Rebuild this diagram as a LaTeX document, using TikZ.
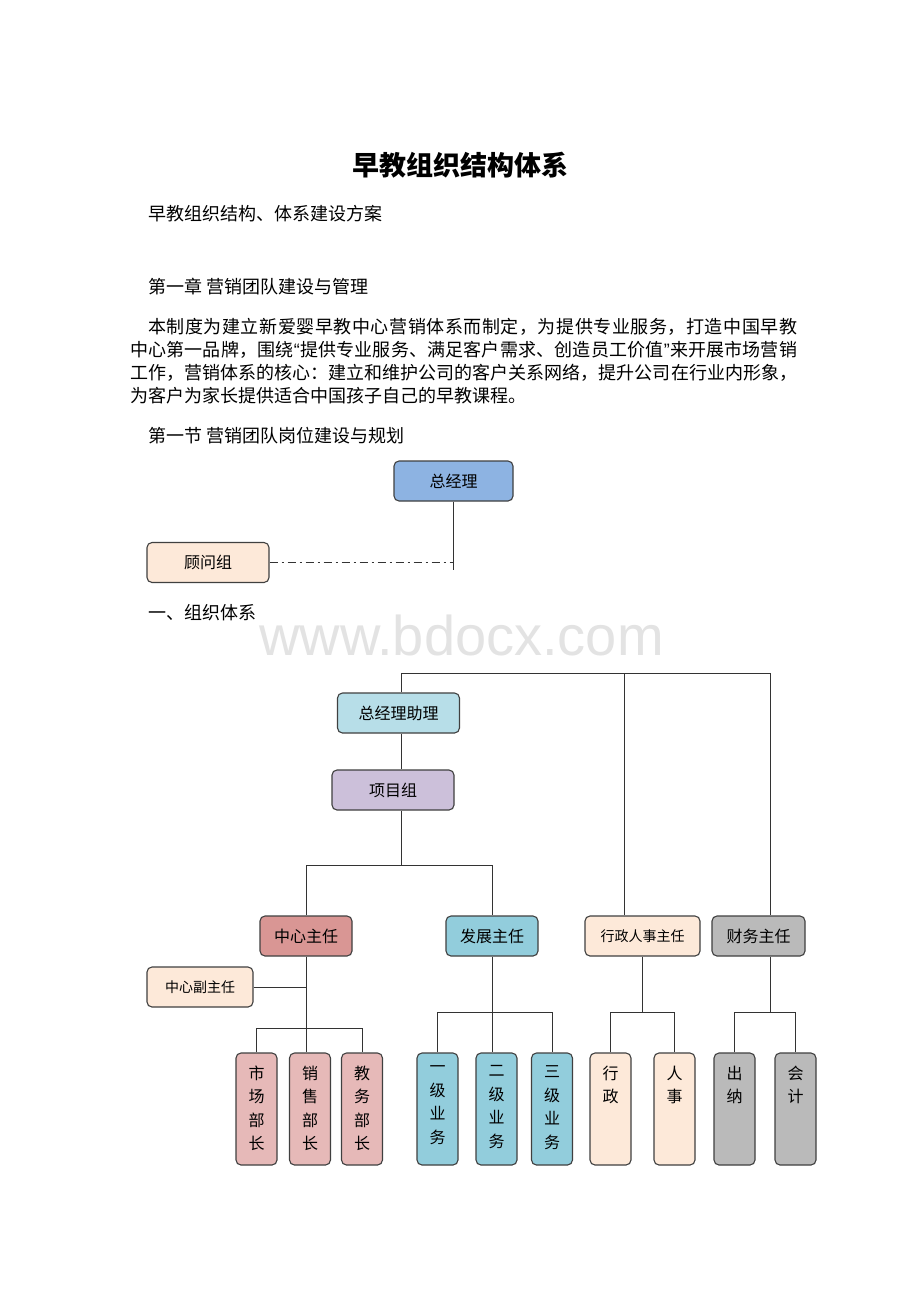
\documentclass[tikz,border=0pt]{standalone}
\usepackage{fontspec}
\setmainfont{Noto Sans CJK SC}
\newfontfamily\wmfont{Liberation Sans}
\usetikzlibrary{positioning}
\definecolor{gmblue}{HTML}{8DB3E2}
\definecolor{zlcyan}{HTML}{B7DEE8}
\definecolor{xmpurple}{HTML}{CCC0DA}
\definecolor{zxred}{HTML}{D99694}
\definecolor{zxpink}{HTML}{E6B9B8}
\definecolor{fzblue}{HTML}{92CDDC}
\definecolor{peach}{HTML}{FDE9D9}
\definecolor{cwgray}{HTML}{BABABA}
\definecolor{wmgray}{HTML}{E3E3E3}
% spread a line of characters to a fixed width
\def\spreadchars#1{\spreadfirst#1\relax}
\def\spreadfirst#1{#1\spreadrest}
\def\spreadrest#1{\ifx\relax#1\else\hskip 0pt plus 1fil minus 1pt#1\expandafter\spreadrest\fi}
\newcommand{\openq}{{\wmfont “}}
\newcommand{\closeq}{{\wmfont ”}}
\begin{document}
\begin{tikzpicture}[
			x=1pt,y=-1pt,
			line/.style={draw=black!80, line width=0.9pt},
			post/.style={
				draw=black!75,
				line width=1.1pt,
				rounded corners=5pt,
				minimum height=40pt,
				inner sep=2pt,
				font=\fontsize{16}{16}\selectfont
			},
			unit/.style={post, minimum width=41pt, minimum height=112pt},
			vlab/.style={anchor=north, inner sep=0pt, align=center, yshift=-13pt,
				font=\fontsize{16}{23.5}\selectfont},
			txt/.style={anchor=west, inner sep=0pt, font=\fontsize{18}{18}\selectfont}
			]
			\fill[white] (0,0) rectangle (920,1302);
			\useasboundingbox (0,0) rectangle (920,1302);
			
			% Watermark
			\node[anchor=base, inner sep=0pt, text=wmgray, font=\wmfont\fontsize{56}{56}\selectfont] (wm) at (461.5,655) {www.bdocx.com};
			
			% Page text
			\node[inner sep=0pt, font=\fontsize{27}{27}\selectfont\bfseries] (title) at (460,165) {早教组织结构体系};
			\node[txt] (sub) at (148,214) {早教组织结构、体系建设方案};
			\node[txt] (ch1) at (148,287) {第一章 营销团队建设与管理};
			\node[txt] (p1) at (148,327) {\hbox to 649pt{\spreadchars{本制度为建立新爱婴早教中心营销体系而制定，为提供专业服务，打造中国早教}}};
			\node[txt] (p2) at (130,350) {\hbox to 667pt{\spreadchars{中心第一品牌，围绕\openq 提供专业服务、满足客户需求、创造员工价值\closeq 来开展市场营销}}};
			\node[txt] (p3) at (130,373) {\hbox to 667pt{\spreadchars{工作，营销体系的核心：建立和维护公司的客户关系网络，提升公司在行业内形象，}}};
			\node[txt] (p4) at (130,396) {为客户为家长提供适合中国孩子自己的早教课程。};
			\node[txt] (sec1) at (148,436) {第一节 营销团队岗位建设与规划};
			\node[txt] (org) at (148,613) {一、组织体系};
			
			% Top chart
			\node[post, fill=gmblue, minimum width=119pt] (gm) at (453.5,481) {总经理};
			\node[post, fill=peach, minimum width=122pt] (gwz) at (208,562.5) {顾问组};
			\coordinate (gmend) at (453.5,570);
			\draw[line] (gm) -- (gmend);
			\draw[line, dash pattern=on 8pt off 4pt on 2pt off 4pt] (gwz.east) -- (gwz.east -| gm.south);
			
			% Main chart, upper levels
			\node[post, fill=zlcyan, minimum width=122pt] (zlzl) at (398.5,713) {总经理助理};
			\node[post, fill=xmpurple, minimum width=122pt] (xmz) at (393,790) {项目组};
			\node[post, fill=zxred, minimum width=92pt] (zxzr) at (306,936) {中心主任};
			\node[post, fill=fzblue, minimum width=92pt] (fzzr) at (492,936) {发展主任};
			\node[post, fill=peach, minimum width=115pt, font=\fontsize{14}{14}\selectfont] (xzrs) at (642.5,936) {行政人事主任};
			\node[post, fill=cwgray, minimum width=93pt] (cwzr) at (758.5,936) {财务主任};
			\node[post, fill=peach, minimum width=106pt, font=\fontsize{14}{14}\selectfont] (fzr) at (200,987) {中心副主任};
			
			% Bottom units
			\node[unit, fill=zxpink, label={[vlab]north:{市\\场\\部\\长}}] (sc) at (256.5,1109) {};
			\node[unit, fill=zxpink, label={[vlab]north:{销\\售\\部\\长}}] (xs) at (310,1109) {};
			\node[unit, fill=zxpink, label={[vlab]north:{教\\务\\部\\长}}] (jw) at (362,1109) {};
			\node[unit, fill=fzblue, label={[vlab]north:{一\\级\\业\\务}}] (yj) at (437.5,1109) {};
			\node[unit, fill=fzblue, label={[vlab]north:{二\\级\\业\\务}}] (ej) at (496.5,1109) {};
			\node[unit, fill=fzblue, label={[vlab]north:{三\\级\\业\\务}}] (sj) at (552,1109) {};
			\node[unit, fill=peach, label={[vlab]north:{行\\政}}] (xz) at (610.5,1109) {};
			\node[unit, fill=peach, label={[vlab]north:{人\\事}}] (rs) at (674.5,1109) {};
			\node[unit, fill=cwgray, label={[vlab]north:{出\\纳}}] (cn) at (734.5,1109) {};
			\node[unit, fill=cwgray, label={[vlab]north:{会\\计}}] (kj) at (795.5,1109) {};
			
			% Junctions
			\coordinate (topL) at (401,673);
			\coordinate (topM) at (624,673);
			\coordinate (topR) at (770,673);
			\coordinate (xmj) at (401,865);
			\coordinate (zxbar) at (306,1028);
			\coordinate (fzbar) at (492,1012);
			\coordinate (xzbar) at (642.5,1012);
			\coordinate (cwbar) at (770,1012);
			
			% Connectors
			\draw[line] (zlzl.north -| topL) -- (topL) -- (topR) -- (topR |- cwzr.north);
			\draw[line] (topM) -- (topM |- xzrs.north);
			\draw[line] (zlzl.south -| topL) -- (xmz.north -| topL);
			\draw[line] (xmz.south -| xmj) -- (xmj);
			\draw[line] (zxzr.north) |- (xmj) -| (fzzr.north);
			\draw[line] (fzr.east) -- (fzr.east -| zxzr.south);
			\draw[line] (zxzr.south) -- (zxzr.south |- xs.north);
			\draw[line] (sc.north) |- (zxbar) -| (jw.north);
			\draw[line] (fzzr.south) -- (fzzr.south |- ej.north);
			\draw[line] (yj.north) |- (fzbar) -| (sj.north);
			\draw[line] (xzrs.south) -- (xzbar);
			\draw[line] (xz.north) |- (xzbar) -| (rs.north);
			\draw[line] (cwzr.south -| cwbar) -- (cwbar);
			\draw[line] (cn.north) |- (cwbar) -| (kj.north);
		\end{tikzpicture}
\end{document}
